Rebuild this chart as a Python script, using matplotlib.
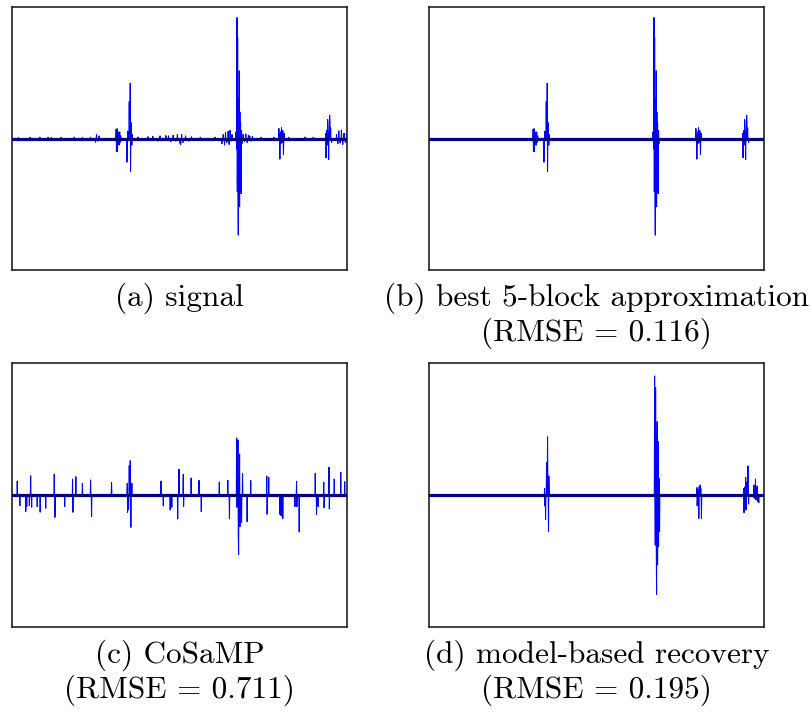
import numpy as np
import matplotlib
matplotlib.use("Agg")
import matplotlib.pyplot as plt

N = 1024

# five significant blocks of the test signal (sample index, amplitude)
block_idx = [318, 319, 321, 322, 324, 325, 327, 329, 330, 332,
             351, 352, 354, 356, 358, 360, 361, 362, 364, 366, 367,
             684, 686, 687, 688, 689, 690, 691, 692, 693, 694, 695, 696, 697, 698, 699, 700, 701, 702,
             815, 817, 818, 820, 821, 823, 825, 827, 829, 831,
             958, 959, 961, 962, 964, 965, 967, 968, 970, 971, 973, 976]
block_val = [0.07, -0.10, 0.075, -0.10, 0.05, -0.03, -0.05, 0.05, -0.03, 0.02,
             -0.18, -0.06, 0.056, 0.04, 0.28, 0.10, 0.42, -0.25, 0.12, -0.05, 0.03,
             0.05, -0.08, 0.92, -0.405, 0.77, -0.30, -0.735, 0.30, -0.35, 0.515, -0.52, 0.20, -0.31, 0.12, -0.38, -0.42, 0.06, -0.04,
             0.076, 0.03, -0.157, 0.05, -0.04, 0.083, -0.03, 0.06, -0.12, 0.04,
             0.04, -0.147, 0.06, -0.05, 0.144, 0.10, -0.16, 0.05, 0.177, 0.12, 0.08, -0.03]

# low-level content outside the blocks
noise_idx = [20, 38, 55, 85, 98, 110, 120, 150, 170, 190, 215, 240,
             255, 258, 262, 266,
             385, 400, 415, 430, 445, 452, 460, 470, 478, 485, 492, 500, 505, 512, 515, 518, 522, 530, 540, 548,
             575, 600, 620,
             641, 645, 649, 652, 656, 660, 663, 666, 669, 672,
             706, 710, 714, 718, 722, 726, 730, 734,
             760, 790, 800, 845, 870, 895, 920, 940,
             991, 995, 998, 1002, 1006, 1010, 1014, 1018, 1022]
noise_val = [0.009, -0.01, 0.01, 0.011, -0.009, 0.01, 0.009, 0.01, -0.009, 0.01, 0.009, 0.01,
             -0.028, 0.03, -0.02, 0.02,
             0.012, -0.011, 0.014, 0.016, -0.02, 0.02, -0.018, 0.022, 0.02, -0.025, 0.025, -0.02, 0.03, -0.035, -0.045, 0.03, -0.03, 0.02, -0.02, 0.013,
             0.01, -0.01, 0.01,
             -0.04, 0.03, -0.05, 0.045, -0.03, 0.055, -0.045, 0.063, -0.02, 0.03,
             0.03, -0.025, 0.035, -0.03, 0.025, 0.02, -0.02, 0.015,
             0.01, -0.011, 0.01, 0.01, -0.01, 0.011, 0.01, -0.01,
             0.03, -0.04, 0.058, -0.035, 0.065, -0.045, 0.04, -0.03, 0.035]

# CoSaMP reconstruction
cosamp_idx = [16, 24, 42, 45, 53, 57, 60, 77, 86, 103, 129, 131, 132, 161, 185, 186, 195, 215, 240, 243,
              304, 352, 353, 356, 358, 361, 363, 366, 455, 462, 483, 488, 506, 510, 523, 524, 547, 571, 578,
              633, 659, 664, 686, 687, 690, 691, 692, 695, 696, 701, 704, 718, 729,
              778, 779, 784, 818, 822, 827, 864, 869, 870, 877, 926, 930, 935, 952, 953, 968, 969, 984, 1004, 1016]
cosamp_val = [0.106, -0.081, -0.126, -0.088, -0.081, 0.146, -0.093, -0.088, -0.13, -0.10, 0.157, -0.17, -0.126, -0.088, 0.12, -0.131, 0.139, 0.088, 0.114, -0.164,
              0.096, 0.088, -0.131, -0.109, 0.222, 0.26, -0.245, 0.088, 0.106, -0.083, -0.114, -0.093, -0.182, 0.195, 0.157, -0.088, 0.129, 0.111, -0.126,
              0.098, 0.111, -0.179, 0.432, -0.093, 0.417, -0.30, -0.452, 0.31, -0.24, -0.207, 0.162, -0.202, 0.109,
              0.144, -0.146, 0.134, -0.146, -0.159, -0.179, -0.088, 0.104, -0.088, -0.280, 0.164, -0.146, -0.088, 0.096, -0.096, 0.21, -0.106, 0.121, 0.172, 0.101]

# model-based recovery
model_idx = [353, 354, 356, 359, 362, 363, 365, 366,
             689, 691, 692, 694, 695, 696, 697, 698, 700, 701, 703, 704,
             818, 819, 821, 824, 825, 828, 830, 832,
             961, 962, 964, 967, 968, 969, 971, 974, 976,
             992, 993, 997, 998, 1002, 1003, 1007]
model_val = [0.05, -0.083, -0.185, 0.248, 0.441, 0.10, -0.278, 0.144,
             0.902, -0.38, 0.813, -0.38, -0.753, 0.30, 0.556, -0.53, 0.404, -0.39, 0.126, -0.278,
             0.056, -0.083, 0.04, -0.177, 0.063, 0.076, 0.05, -0.177,
             0.05, -0.134, 0.06, 0.134, -0.114, 0.063, 0.10, 0.22, -0.068,
             0.076, -0.025, 0.121, -0.038, 0.068, -0.05, -0.058]

captions = [["(a) signal"],
            ["(b) best 5-block approximation", "(RMSE = 0.116)"],
            ["(c) CoSaMP", "(RMSE = 0.711)"],
            ["(d) model-based recovery", "(RMSE = 0.195)"]]


def to_signal(idx, val):
    s = np.zeros(N)
    s[np.array(idx)] = val
    return s


blocks = to_signal(block_idx, block_val)
signal = blocks + to_signal(noise_idx, noise_val)
signals = [signal, blocks, to_signal(cosamp_idx, cosamp_val), to_signal(model_idx, model_val)]

fig = plt.figure(figsize=(8.12, 7.13), dpi=100)
W, H = 812.0, 713.0
boxes = [(12, 7, 335, 263), (429, 7, 335, 263), (12, 363, 335, 264), (429, 363, 335, 264)]
cap_y = [298, 298, 655, 655]

n = np.arange(N)
for k in range(4):
    x0, y0, w, h = boxes[k]
    ax = fig.add_axes([x0 / W, 1 - (y0 + h) / H, w / W, h / H])
    ax.plot(n, signals[k], color="blue", lw=0.75)
    ax.axhline(0, color="#000080", lw=2.3, zorder=3)
    ax.set_xlim(0, N - 1)
    ax.set_ylim(-1, 1)
    ax.set_xticks([])
    ax.set_yticks([])
    for sp in ax.spines.values():
        sp.set_linewidth(1.2)
        sp.set_color("#222222")
    cx = (x0 + w / 2) / W
    for j, line in enumerate(captions[k]):
        fig.text(cx, 1 - (cap_y[k] + 35 * j) / H, line, ha="center", va="center",
                 fontsize=22.5, family="cmr10")

fig.savefig("out.png", dpi=100)
